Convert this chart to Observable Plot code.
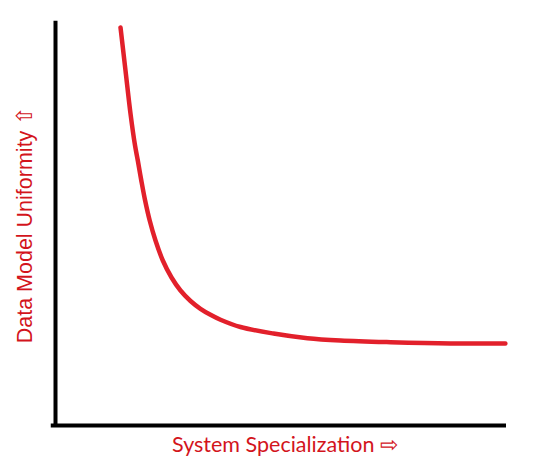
<!DOCTYPE html>
<html>
<head>
<meta charset="utf-8">
<script src="https://cdn.jsdelivr.net/npm/d3@7"></script>
<script src="https://cdn.jsdelivr.net/npm/@observablehq/plot@0.6"></script>
<style>
  html, body { margin: 0; padding: 0; background: #fff; }
</style>
</head>
<body>
<div id="chart"></div>
<script>
// System specialization (x, 0-100) vs data model uniformity (y, 0-100)
const specialization = [14.48, 15.59, 16.70, 17.71, 18.33, 19.11, 19.96, 20.98, 22.27, 23.90, 25.84, 27.84, 30.07, 32.29, 34.52, 36.75, 41.20, 48.55, 56.12, 63.47, 74.61, 87.97, 100.2];
const uniformity     = [99.25, 88.53, 77.81, 69.83, 66.08, 61.10, 56.11, 51.12, 46.13, 41.15, 36.91, 33.67, 31.05, 29.10, 27.61, 26.38, 24.56, 22.94, 21.77, 21.20, 20.77, 20.45, 20.45];
const xLabel = "System Specialization \u21E8";
const yLabel = "Data Model Uniformity \u21E7";

const curve = specialization.map((x, i) => ({x, y: uniformity[i]}));

const chart = Plot.plot({
  width: 540,
  height: 469,
  marginTop: 24,
  marginBottom: 44,
  marginLeft: 55,
  marginRight: 36,
  x: {domain: [0, 100], axis: null},
  y: {domain: [0, 100], axis: null},
  marks: [
    Plot.ruleX([0], {y1: 0, y2: 100.3, stroke: "black", strokeWidth: 4, strokeLinecap: "square"}),
    Plot.ruleY([0], {x1: -0.5, x2: 100, stroke: "black", strokeWidth: 4, strokeLinecap: "square"}),
    Plot.line(curve, {x: "x", y: "y", stroke: "#e2202b", strokeWidth: 4.5, curve: "catmull-rom", strokeLinecap: "round"}),
    Plot.text([xLabel], {frameAnchor: "bottom", dy: 26, dx: 5, fill: "#d3141c", fontSize: 21.5, fontFamily: "Lato", textAnchor: "middle"}),
    Plot.text([yLabel], {frameAnchor: "left", dx: -30, rotate: -90, fill: "#d3141c", fontSize: 21.5, fontFamily: "Liberation Sans", textAnchor: "middle"})
  ]
});
document.getElementById("chart").appendChild(chart);
</script>
</body>
</html>
